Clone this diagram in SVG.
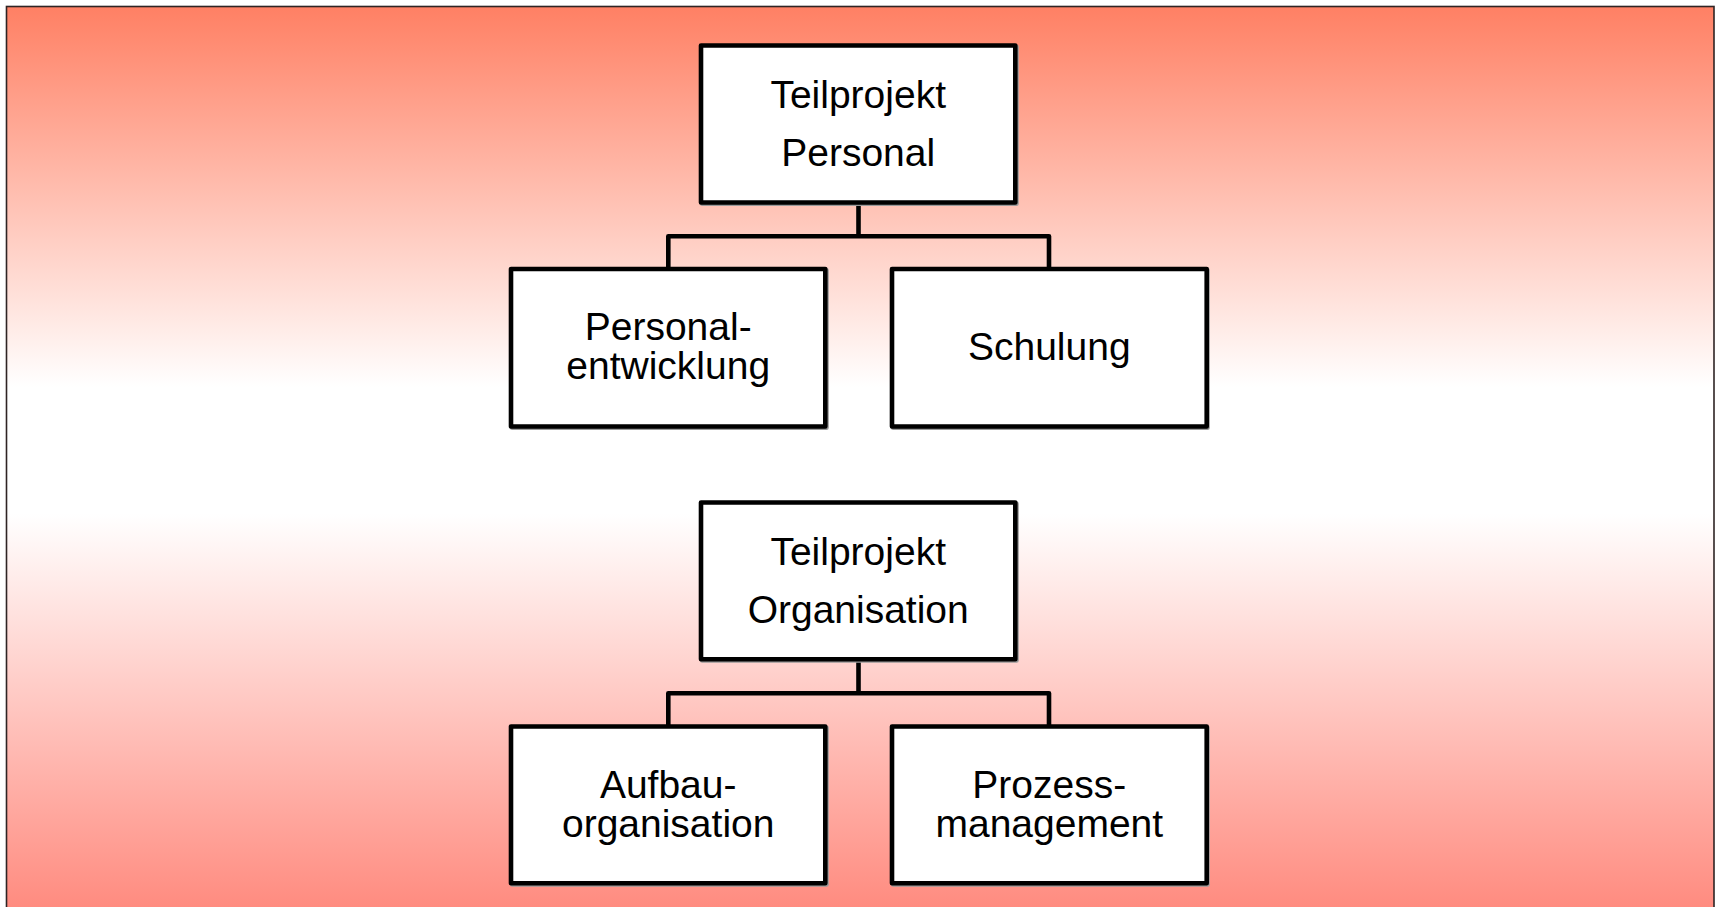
<svg xmlns="http://www.w3.org/2000/svg" width="1719" height="907" viewBox="0 0 1719 907">
  <defs>
    <linearGradient id="bg" x1="0" y1="7" x2="0" y2="912" gradientUnits="userSpaceOnUse">
      <stop offset="0" stop-color="#ff8064"/>
      <stop offset="0.42" stop-color="#ffffff"/>
      <stop offset="0.56" stop-color="#ffffff"/>
      <stop offset="1" stop-color="#ff8a7e"/>
    </linearGradient>
  </defs>
  <style>
    .box { fill: #ffffff; stroke: #000000; stroke-width: 4.6; stroke-linejoin: round; }
    .shadow { fill: none; stroke: #9a9a9a; stroke-width: 4.6; stroke-linejoin: round; }
    .conn { fill: none; stroke: #000000; stroke-width: 4.6; stroke-linejoin: round; stroke-linecap: butt; }
    .lbl { font-family: "Liberation Sans", Arial, sans-serif; font-size: 39px; fill: #000000; text-anchor: middle; }
  </style>
  <rect x="6.5" y="6.5" width="1707.5" height="910" fill="url(#bg)" stroke="#2e2424" stroke-width="1.6"/>

  <g id="connectors">
    <path class="conn" d="M858.5 202.5 V236.3 M668.3 269 V236.3 H1049 V269"/>
    <path class="conn" d="M858.5 659.3 V693.3 M668.3 726.5 V693.3 H1049 V726.5"/>
  </g>

  <g id="teilprojekt-personal">
    <rect class="shadow" x="702.2" y="46.7" width="314.3" height="157"/>
    <rect class="box" x="701" y="45.5" width="314.3" height="157"/>
    <text class="lbl" x="858.2" y="108.3">Teilprojekt</text>
    <text class="lbl" x="858.2" y="166">Personal</text>
  </g>

  <g id="personalentwicklung">
    <rect class="shadow" x="512.2" y="270.2" width="314.3" height="157.5"/>
    <rect class="box" x="511" y="269" width="314.3" height="157.5"/>
    <text class="lbl" x="668.2" y="340">Personal-</text>
    <text class="lbl" x="668.2" y="379.3">entwicklung</text>
  </g>

  <g id="schulung">
    <rect class="shadow" x="893.2" y="270.2" width="314.3" height="157.5"/>
    <rect class="box" x="892" y="269" width="314.7" height="157.5"/>
    <text class="lbl" x="1049.3" y="360">Schulung</text>
  </g>

  <g id="teilprojekt-organisation">
    <rect class="shadow" x="702.2" y="503.7" width="314.3" height="156.8"/>
    <rect class="box" x="701" y="502.5" width="314.3" height="156.8"/>
    <text class="lbl" x="858.2" y="565.3">Teilprojekt</text>
    <text class="lbl" x="858.2" y="623">Organisation</text>
  </g>

  <g id="aufbauorganisation">
    <rect class="shadow" x="512.2" y="727.7" width="314.3" height="156.7"/>
    <rect class="box" x="511" y="726.5" width="314.3" height="156.7"/>
    <text class="lbl" x="668.2" y="797.5">Aufbau-</text>
    <text class="lbl" x="668.2" y="836.8">organisation</text>
  </g>

  <g id="prozessmanagement">
    <rect class="shadow" x="893.2" y="727.7" width="314.3" height="156.7"/>
    <rect class="box" x="892" y="726.5" width="314.7" height="156.7"/>
    <text class="lbl" x="1049.3" y="797.5">Prozess-</text>
    <text class="lbl" x="1049.3" y="836.8">management</text>
  </g>
</svg>
